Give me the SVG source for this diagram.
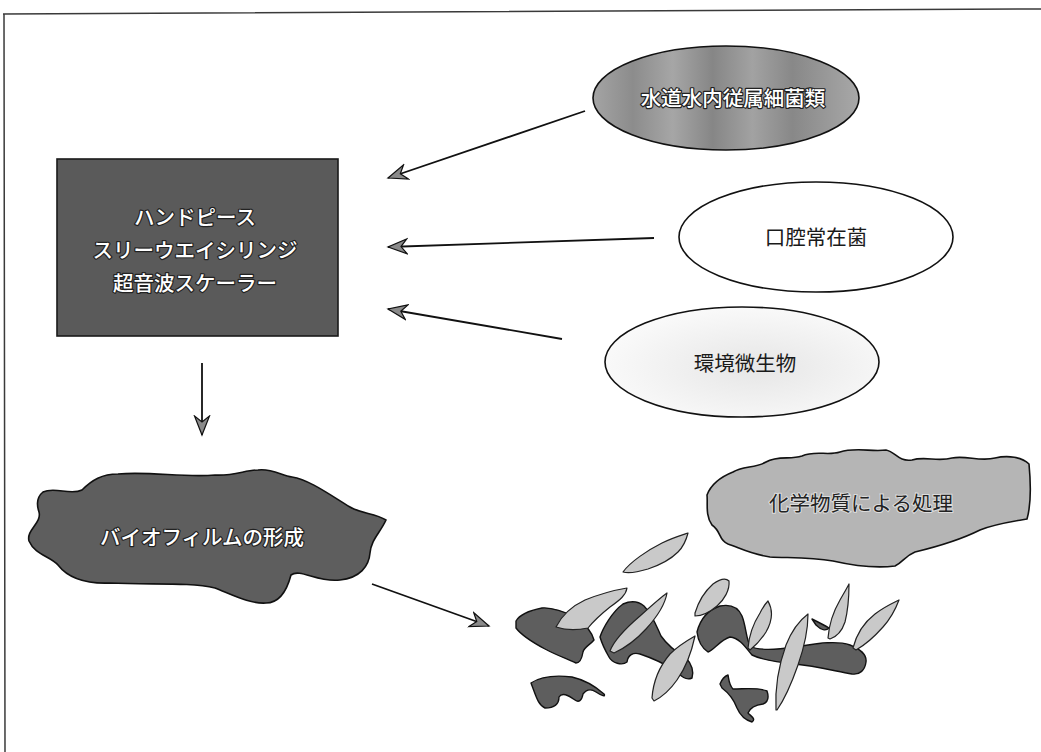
<svg xmlns="http://www.w3.org/2000/svg" width="1041" height="752" viewBox="0 0 1041 752">
  <defs>
    <style>
      .frame { fill: none; stroke: #3a3a3a; stroke-width: 1.5; }
      .edge { fill: none; stroke: #111; stroke-width: 1.8; marker-end: url(#barb); }
      .outline { stroke: #111; stroke-width: 1.6; stroke-linejoin: round; }
      .dark { fill: #5e5e5e; }
      .shard { fill: #c9c9c9; stroke: #222; stroke-width: 1.2; stroke-linejoin: round; }
      .frag { fill: #5e5e5e; stroke: #111; stroke-width: 1.4; stroke-linejoin: round; }
      .lbl { font-family: "Noto Sans CJK JP", "Noto Sans", sans-serif; font-size: 20.5px; text-anchor: middle; font-weight: 500; }
      .inv { fill: #fff; stroke: #222; stroke-width: 2.4; paint-order: stroke; stroke-linejoin: round; }
      .plain { fill: #1a1a1a; font-weight: 400; }
      .soft { fill: #222; stroke: #ddd; stroke-width: 2; paint-order: stroke; font-weight: 400; }
    </style>
    <marker id="barb" viewBox="-20 -9 22 18" refX="0" refY="0" markerWidth="22" markerHeight="18" markerUnits="userSpaceOnUse" orient="auto">
      <path d="M 0 0 L -19 -7.5 L -13 0 L -19 7.5 Z" fill="#8a8a8a" stroke="#111" stroke-width="1.2" stroke-linejoin="miter"/>
    </marker>
    <linearGradient id="streak" x1="0" y1="0" x2="1" y2="0">
      <stop offset="0" stop-color="#a4a4a4"/>
      <stop offset="0.15" stop-color="#8c8c8c"/>
      <stop offset="0.3" stop-color="#a6a6a6"/>
      <stop offset="0.45" stop-color="#868686"/>
      <stop offset="0.6" stop-color="#a2a2a2"/>
      <stop offset="0.75" stop-color="#888888"/>
      <stop offset="1" stop-color="#a8a8a8"/>
    </linearGradient>
    <radialGradient id="speck" cx="0.55" cy="0.55" r="0.6">
      <stop offset="0" stop-color="#e6e6e6"/>
      <stop offset="1" stop-color="#fbfbfb"/>
    </radialGradient>
  </defs>

  <rect width="1041" height="752" fill="#fff"/>

  <!-- page frame -->
  <path class="frame" d="M 3 14 L 1041 9 M 4 14 L 5 752"/>

  <!-- connectors -->
  <g id="connectors">
    <line class="edge" x1="585" y1="111" x2="388" y2="178"/>
    <line class="edge" x1="654" y1="238" x2="388" y2="247"/>
    <line class="edge" x1="562" y1="339" x2="388" y2="309"/>
    <line class="edge" x1="202" y1="363" x2="202" y2="435"/>
    <line class="edge" x1="372" y1="584" x2="489" y2="626"/>
  </g>

  <!-- equipment block -->
  <g id="node-equipment">
    <rect x="57" y="159" width="281" height="177" fill="#5a5a5a" stroke="#1a1a1a" stroke-width="1.6"/>
    <text class="lbl inv" x="195" y="225">ハンドピース</text>
    <text class="lbl inv" x="195" y="258">スリーウエイシリンジ</text>
    <text class="lbl inv" x="195" y="291">超音波スケーラー</text>
  </g>

  <!-- tap water bacteria -->
  <g id="node-tapwater">
    <ellipse cx="726" cy="98" rx="133" ry="52" fill="url(#streak)" class="outline"/>
    <text class="lbl inv" x="733" y="106">水道水内従属細菌類</text>
  </g>

  <!-- oral flora -->
  <g id="node-oral">
    <ellipse cx="816" cy="237" rx="137" ry="55" fill="#fff" class="outline" stroke-width="1.3"/>
    <text class="lbl plain" x="816" y="245">口腔常在菌</text>
  </g>

  <!-- environmental microbes -->
  <g id="node-env">
    <ellipse cx="742" cy="362" rx="137" ry="55" fill="url(#speck)" class="outline" stroke-width="1.3"/>
    <text class="lbl plain" x="745" y="371">環境微生物</text>
  </g>

  <!-- biofilm formation -->
  <g id="node-biofilm">
    <path class="dark outline" d="M 43 492 C 55 486 70 496 82 490 C 92 480 102 474 118 474 C 150 471 185 478 215 475 C 235 476 245 470 258 470 C 272 468 282 476 292 477 C 310 480 330 495 350 507 C 362 514 375 513 386 520 C 380 533 371 540 370 553 C 369 566 360 578 340 580 C 318 583 300 568 291 575 C 287 590 280 603 266 603 C 250 604 235 596 215 588 C 190 582 150 585 110 583 C 85 584 68 578 58 565 C 50 556 35 555 29 541 C 26 530 42 523 39 512 C 36 503 38 496 43 492 Z"/>
    <text class="lbl inv" x="202" y="545">バイオフィルムの形成</text>
  </g>

  <!-- chemical treatment -->
  <g id="node-chemical">
    <path class="outline" fill="#b5b5b5" d="M 733 472 C 742 466 756 468 766 462 C 778 455 790 460 802 456 C 815 450 828 456 840 452 C 855 447 872 452 886 450 C 896 452 898 462 912 460 C 925 456 938 462 952 458 C 966 455 980 462 995 458 C 1008 455 1022 457 1029 464 C 1031 485 1031 505 1027 519 C 1010 522 995 524 980 530 C 960 540 940 546 915 552 C 905 556 903 562 895 566 C 878 568 855 566 833 561 C 810 557 790 558 770 557 C 750 554 740 548 728 544 C 718 540 722 532 712 525 C 705 515 708 503 707 495 C 710 487 718 478 733 472 Z"/>
    <text class="lbl soft" x="861" y="511">化学物質による処理</text>
  </g>

  <!-- disrupted biofilm fragments -->
  <g id="node-fragments">
    <!-- detached shard -->
    <path class="shard" d="M 623 572 C 630 562 648 550 662 543 C 672 538 682 535 688 533 C 686 541 682 548 678 552 C 672 558 660 565 648 569 C 638 572 630 574 623 572 Z"/>

    <!-- dark biofilm remnants -->
    <path class="frag" d="M 516 621 C 520 614 532 610 542 608 C 552 607 565 612 578 618 C 586 626 592 632 594 640 C 590 645 584 647 583 652 C 582 658 580 663 576 663 C 568 659 558 656 545 649 C 532 642 522 636 516 628 Z"/>
    <path class="frag" d="M 600 637 C 603 628 612 612 623 604 C 630 601 638 601 644 606 C 652 614 656 625 661 636 C 668 646 676 652 686 658 C 692 664 694 672 692 678 C 686 681 681 676 676 671 C 665 664 652 658 640 654 C 633 652 628 655 627 662 C 622 666 612 663 609 657 C 605 650 602 644 600 637 Z"/>
    <path class="frag" d="M 697 632 C 700 620 708 610 720 606 C 730 604 738 607 742 616 C 746 626 746 638 750 646 C 758 651 775 650 795 647 C 815 644 835 640 850 645 C 860 649 867 654 866 662 C 865 670 860 675 852 674 C 835 671 815 666 795 664 C 775 662 762 660 752 655 C 746 648 740 638 730 637 C 720 640 714 650 708 652 C 702 648 698 640 697 632 Z"/>
    <path class="frag" d="M 812 619 C 818 622 824 625 829 628 C 826 631 821 630 816 625 Z"/>
    <path class="frag" d="M 531 683 C 540 677 555 675 572 677 C 585 680 595 686 604 694 C 606 697 602 696 596 692 C 590 688 586 690 583 694 C 582 700 579 703 575 700 C 568 695 562 692 559 697 C 559 704 555 708 545 708 C 538 705 536 696 531 683 Z"/>
    <path class="frag" d="M 720 684 C 722 679 725 676 728 675 C 729 680 729 685 733 689 C 745 689 757 687 767 691 C 769 697 768 702 763 704 C 755 705 750 708 748 713 C 752 717 756 719 752 722 C 745 720 740 715 737 708 C 734 700 730 694 722 688 Z"/>

    <!-- light shards -->
    <path class="shard" d="M 556 627 C 562 615 570 607 585 600 C 600 594 615 590 627 588 C 626 595 620 600 610 607 C 600 615 592 623 588 628 C 578 630 565 630 556 627 Z"/>
    <path class="shard" d="M 610 651 C 614 640 626 628 640 616 C 650 607 660 598 667 593 C 665 605 656 618 646 629 C 636 640 625 648 614 653 Z"/>
    <path class="shard" d="M 652 698 C 653 684 658 668 670 654 C 678 646 688 640 695 636 C 692 650 687 666 677 680 C 670 690 662 697 654 701 Z"/>
    <path class="shard" d="M 695 613 C 698 603 704 592 713 584 C 720 579 726 578 729 581 C 730 590 724 600 717 606 C 710 612 702 616 695 616 Z"/>
    <path class="shard" d="M 748 648 C 749 636 753 624 760 613 C 763 607 766 603 768 601 C 773 610 773 620 766 632 C 761 640 755 646 750 650 Z"/>
    <path class="shard" d="M 776 710 C 775 690 777 670 786 645 C 792 630 800 620 808 614 C 808 628 805 645 798 665 C 791 685 784 700 777 710 Z"/>
    <path class="shard" d="M 828 638 C 829 625 833 612 840 600 C 844 593 847 588 849 584 C 849 596 848 610 845 622 C 842 631 836 637 830 639 Z"/>
    <path class="shard" d="M 853 648 C 856 636 862 624 875 614 C 884 607 893 603 899 600 C 896 608 892 617 883 627 C 875 636 865 645 856 650 Z"/>
  </g>
</svg>
